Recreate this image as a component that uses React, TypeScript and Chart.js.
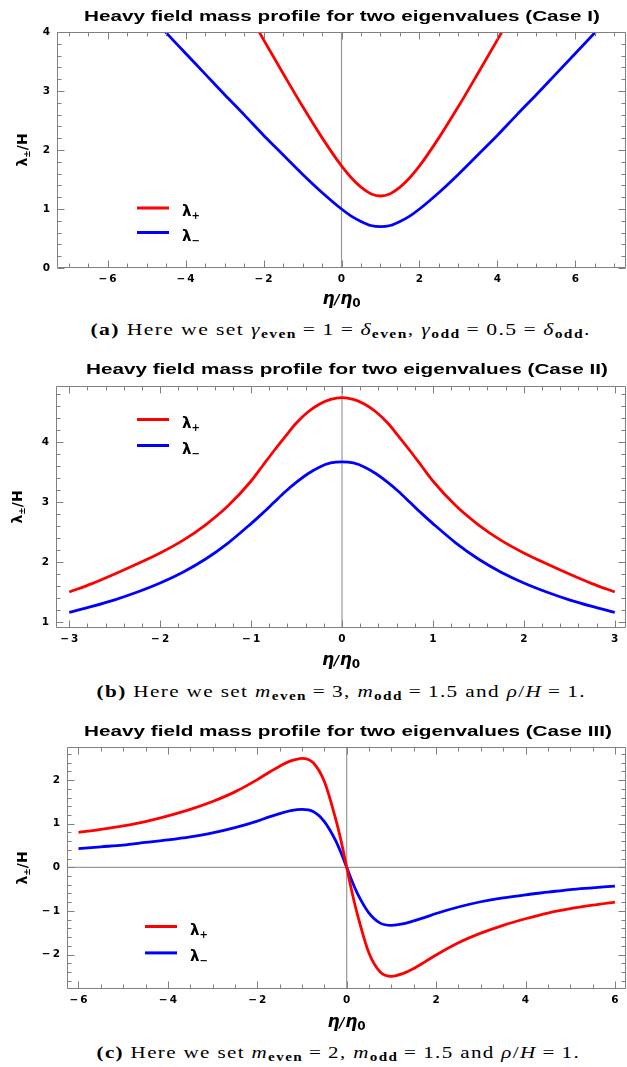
import React, { useEffect, useLayoutEffect, useRef } from 'react';
import { Chart, registerables } from 'chart.js';

Chart.register(...registerables);

// ---------------- data ----------------
// Panel (a) – Case I
const xA_plus = [-2.5, -2, -1.5, -1, -0.5, 0, 0.25, 0.5, 0.75, 1, 1.25, 1.5, 1.75, 2, 2.5, 3, 3.5, 4, 4.5];
const yA_plus = [4.46, 3.87, 3.30, 2.74, 2.21, 1.73, 1.53, 1.37, 1.26, 1.22, 1.26, 1.37, 1.53, 1.73, 2.21, 2.74, 3.30, 3.87, 4.46];
const xA_minus = [-5, -4.5, -4, -3.5, -3, -2.5, -2, -1.5, -1, -0.5, 0, 0.25, 0.5, 0.75, 1, 1.25, 1.5, 1.75, 2, 2.5, 3, 3.5, 4, 4.5, 5, 5.5, 6, 6.5, 7];
const yA_minus = [4.34, 3.99, 3.64, 3.29, 2.94, 2.60, 2.25, 1.92, 1.59, 1.28, 1.00, 0.88, 0.79, 0.72, 0.70, 0.72, 0.79, 0.88, 1.00, 1.28, 1.59, 1.92, 2.25, 2.60, 2.94, 3.29, 3.64, 3.99, 4.34];
const xTicksA = [-6, -4, -2, 0, 2, 4, 6];
const yTicksA = [0, 1, 2, 3, 4];

// Panel (b) – Case II
const xB = [-3, -2.75, -2.5, -2.25, -2, -1.75, -1.5, -1.25, -1, -0.875, -0.75, -0.625, -0.5, -0.375, -0.25, -0.125, 0, 0.125, 0.25, 0.375, 0.5, 0.625, 0.75, 0.875, 1, 1.25, 1.5, 1.75, 2, 2.25, 2.5, 2.75, 3];
const yB_plus = [1.50, 1.64, 1.80, 1.97, 2.15, 2.36, 2.62, 2.94, 3.35, 3.60, 3.85, 4.09, 4.32, 4.50, 4.63, 4.71, 4.74, 4.71, 4.63, 4.50, 4.32, 4.09, 3.85, 3.60, 3.35, 2.94, 2.62, 2.36, 2.15, 1.97, 1.80, 1.64, 1.50];
const yB_minus = [1.16, 1.26, 1.37, 1.50, 1.65, 1.83, 2.05, 2.32, 2.64, 2.81, 2.99, 3.17, 3.33, 3.47, 3.58, 3.65, 3.67, 3.65, 3.58, 3.47, 3.33, 3.17, 2.99, 2.81, 2.64, 2.32, 2.05, 1.83, 1.65, 1.50, 1.37, 1.26, 1.16];
const xTicksB = [-3, -2, -1, 0, 1, 2, 3];
const yTicksB = [1, 2, 3, 4];

// Panel (c) – Case III
const xC = [-6, -5.5, -5, -4.5, -4, -3.5, -3, -2.5, -2, -1.75, -1.5, -1.25, -1, -0.75, -0.5, -0.25, -0.125, 0, 0.125, 0.25, 0.5, 0.75, 1, 1.25, 1.5, 1.75, 2, 2.5, 3, 3.5, 4, 4.5, 5, 5.5, 6];
const yC_plus = [0.80, 0.87, 0.95, 1.05, 1.18, 1.33, 1.51, 1.73, 2.01, 2.17, 2.32, 2.44, 2.50, 2.40, 1.97, 1.12, 0.60, 0, -0.60, -1.12, -1.97, -2.40, -2.50, -2.44, -2.32, -2.17, -2.01, -1.73, -1.51, -1.33, -1.18, -1.05, -0.95, -0.87, -0.80];
const yC_minus = [0.43, 0.47, 0.51, 0.57, 0.63, 0.70, 0.79, 0.91, 1.06, 1.15, 1.23, 1.30, 1.33, 1.28, 1.05, 0.62, 0.33, 0, -0.33, -0.62, -1.05, -1.28, -1.33, -1.30, -1.23, -1.15, -1.06, -0.91, -0.79, -0.70, -0.63, -0.57, -0.51, -0.47, -0.43];
const xTicksC = [-6, -4, -2, 0, 2, 4, 6];
const yTicksC = [-2, -1, 0, 1, 2];

const TITLE_A = 'Heavy field mass profile for two eigenvalues (Case I)';
const TITLE_B = 'Heavy field mass profile for two eigenvalues (Case II)';
const TITLE_C = 'Heavy field mass profile for two eigenvalues (Case III)';

// ---------------- styling / layout ----------------
const W = 627;
const RED = '#ff0000';
const BLUE = '#0000ff';
const FAM = '"DejaVu Sans", sans-serif';
const TFAM = '"Liberation Sans", Arial, sans-serif';
const FRAME = '#808080';

type Series = { xs: number[]; ys: number[]; color: string; sub: string };
type Axis = { min: number; max: number; ticks: number[]; minor: number };
type PanelCfg = {
  top: number;
  height: number;
  plot: { l: number; t: number; r: number; b: number };
  x: Axis;
  y: Axis;
  title: string;
  titleBase: number;
  titleCx: number;
  titleW: number;
  series: Series[];
  legend: { x: number; y: number; gap: number };
  yTitleX: number;
  xTitleBase: number;
  zeroY: boolean;
};

const fmt = (v: number) => (v < 0 ? '\u2212\u2009' + Math.abs(v) : String(v));

type Part = { t: string; font: string; dy?: number; gap?: number };
function partsWidth(ctx: CanvasRenderingContext2D, parts: Part[]) {
  let w = 0;
  for (const p of parts) {
    ctx.font = p.font;
    w += ctx.measureText(p.t).width + (p.gap || 0);
  }
  return w;
}
function drawParts(ctx: CanvasRenderingContext2D, parts: Part[], x: number, y: number) {
  let cx = x;
  for (const p of parts) {
    ctx.font = p.font;
    ctx.fillText(p.t, cx, y + (p.dy || 0));
    cx += ctx.measureText(p.t).width + (p.gap || 0);
  }
}

function makeDecor(cfg: PanelCfg) {
  return {
    id: 'decor',
    beforeDatasetsDraw(chart: any) {
      const { ctx, chartArea: a, scales } = chart;
      const xs = scales.x, ys = scales.y;
      ctx.save();
      ctx.strokeStyle = '#999999';
      ctx.lineWidth = 1.2;
      const px = xs.getPixelForValue(0);
      ctx.beginPath();
      ctx.moveTo(px, a.top);
      ctx.lineTo(px, a.bottom);
      ctx.stroke();
      if (cfg.zeroY) {
        const py = ys.getPixelForValue(0);
        ctx.beginPath();
        ctx.moveTo(a.left, py);
        ctx.lineTo(a.right, py);
        ctx.stroke();
      }
      ctx.restore();
    },
    afterDatasetsDraw(chart: any) {
      const { ctx, chartArea: a, scales } = chart;
      const xs = scales.x, ys = scales.y;
      ctx.save();
      ctx.strokeStyle = FRAME;
      ctx.lineWidth = 1;
      const seg = (x1: number, y1: number, x2: number, y2: number) => {
        ctx.beginPath();
        ctx.moveTo(x1, y1);
        ctx.lineTo(x2, y2);
        ctx.stroke();
      };
      const L = Math.round(a.left) + 0.5;
      const R = Math.round(a.right) - 0.5;
      const T = Math.round(a.top) + 0.5;
      const B = Math.round(a.bottom) - 0.5;
      seg(L, T, R, T);
      seg(R, T, R, B);
      seg(R, B, L, B);
      seg(L, B, L, T);
      const multiples = (ax: Axis) => {
        const out: number[] = [];
        const k0 = Math.ceil(ax.min / ax.minor - 1e-9);
        const k1 = Math.floor(ax.max / ax.minor + 1e-9);
        for (let k = k0; k <= k1; k++) out.push(k * ax.minor);
        return out;
      };
      const xTick = (v: number, len: number) => {
        const p = Math.round(xs.getPixelForValue(v)) + 0.5;
        seg(p, B, p, B - len);
        seg(p, T, p, T + len);
      };
      const yTick = (v: number, len: number) => {
        const p = Math.round(ys.getPixelForValue(v)) + 0.5;
        seg(L, p, L + len, p);
        seg(R, p, R - len, p);
      };
      multiples(cfg.x).forEach((v) => xTick(v, 4));
      cfg.x.ticks.forEach((v) => xTick(v, 7));
      multiples(cfg.y).forEach((v) => yTick(v, 4));
      cfg.y.ticks.forEach((v) => yTick(v, 7));

      ctx.fillStyle = '#000';
      ctx.textBaseline = 'alphabetic';
      ctx.textAlign = 'left';

      // title (wide bold sans)
      ctx.font = `bold 15px ${TFAM}`;
      const tw = ctx.measureText(cfg.title).width;
      ctx.save();
      ctx.translate(cfg.titleCx, cfg.titleBase);
      ctx.scale(cfg.titleW / tw, 1);
      ctx.textAlign = 'center';
      ctx.fillText(cfg.title, 0, 0);
      ctx.restore();

      // x axis title  η/η0
      const xParts: Part[] = [
        { t: '\u03B7', font: `italic bold 17px ${FAM}` },
        { t: '/', font: `italic bold 14px ${FAM}`, gap: 0.5 },
        { t: '\u03B7', font: `italic bold 17px ${FAM}` },
        { t: '0', font: `bold 12px ${FAM}`, dy: 3 },
      ];
      const xw = partsWidth(ctx, xParts);
      drawParts(ctx, xParts, (a.left + a.right) / 2 - xw / 2, cfg.xTitleBase);

      // y axis title  λ±/H
      const yParts: Part[] = [
        { t: '\u03BB', font: `bold 14px ${FAM}` },
        { t: '\u00B1', font: `bold 9px ${FAM}`, dy: 3 },
        { t: '/H', font: `bold 14px ${FAM}` },
      ];
      const yw = partsWidth(ctx, yParts);
      ctx.save();
      ctx.translate(cfg.yTitleX, (a.top + a.bottom) / 2);
      ctx.rotate(-Math.PI / 2);
      drawParts(ctx, yParts, -yw / 2, 5);
      ctx.restore();

      // legend
      cfg.series.forEach((s, i) => {
        const ly = cfg.legend.y + i * cfg.legend.gap;
        ctx.strokeStyle = s.color;
        ctx.lineWidth = 3;
        seg(cfg.legend.x, ly, cfg.legend.x + 32, ly);
        ctx.fillStyle = '#000';
        drawParts(
          ctx,
          [
            { t: '\u03BB', font: `bold 15px ${FAM}` },
            { t: s.sub, font: `bold 10px ${FAM}`, dy: 3 },
          ],
          cfg.legend.x + 45,
          ly + 8
        );
      });
      ctx.restore();
    },
  };
}

const PANELS: PanelCfg[] = [
  {
    top: 0,
    height: 312,
    plot: { l: 57, t: 32, r: 626, b: 268 },
    x: { min: -7.295, max: 7.295, ticks: xTicksA, minor: 0.5 },
    y: { min: 0, max: 4, ticks: yTicksA, minor: 0.2 },
    title: TITLE_A,
    titleBase: 21,
    titleCx: 342,
    titleW: 516,
    series: [
      { xs: xA_plus, ys: yA_plus, color: RED, sub: '+' },
      { xs: xA_minus, ys: yA_minus, color: BLUE, sub: '\u2212' },
    ],
    legend: { x: 137, y: 208, gap: 24.5 },
    yTitleX: 22,
    xTitleBase: 304,
    zeroY: false,
  },
  {
    top: 345,
    height: 330,
    plot: { l: 56, t: 41, r: 626, b: 283 },
    x: { min: -3.146, max: 3.124, ticks: xTicksB, minor: 0.2 },
    y: { min: 0.9, max: 4.933, ticks: yTicksB, minor: 0.2 },
    title: TITLE_B,
    titleBase: 29,
    titleCx: 347,
    titleW: 522,
    series: [
      { xs: xB, ys: yB_plus, color: RED, sub: '+' },
      { xs: xB, ys: yB_minus, color: BLUE, sub: '\u2212' },
    ],
    legend: { x: 137, y: 74.5, gap: 26 },
    yTitleX: 17,
    xTitleBase: 320,
    zeroY: false,
  },
  {
    top: 705,
    height: 330,
    plot: { l: 67, t: 42, r: 626, b: 284 },
    x: { min: -6.257, max: 6.248, ticks: xTicksC, minor: 0.5 },
    y: { min: -2.791, max: 2.759, ticks: yTicksC, minor: 0.2 },
    title: TITLE_C,
    titleBase: 30.5,
    titleCx: 348,
    titleW: 528,
    series: [
      { xs: xC, ys: yC_plus, color: RED, sub: '+' },
      { xs: xC, ys: yC_minus, color: BLUE, sub: '\u2212' },
    ],
    legend: { x: 145, y: 221.5, gap: 26.4 },
    yTitleX: 22,
    xTitleBase: 321.5,
    zeroY: true,
  },
];

function Panel({ cfg }: { cfg: PanelCfg }) {
  const ref = useRef<HTMLCanvasElement | null>(null);
  useEffect(() => {
    if (!ref.current) return;
    const tickFont = { family: FAM, weight: 'bold' as const, size: 10.5 };
    const chart = new Chart(ref.current, {
      type: 'line',
      data: {
        datasets: cfg.series.map((s) => ({
          label: s.sub,
          data: s.xs.map((x, i) => ({ x, y: s.ys[i] })),
          borderColor: s.color,
          borderWidth: 2.8,
          pointRadius: 0,
          fill: false,
          cubicInterpolationMode: 'monotone' as const,
          clip: 0,
        })),
      },
      options: {
        responsive: false,
        animation: false,
        events: [],
        layout: { padding: { left: 0, top: cfg.plot.t, right: W - cfg.plot.r, bottom: 0 } },
        plugins: { legend: { display: false }, title: { display: false }, tooltip: { enabled: false } },
        scales: {
          x: {
            type: 'linear',
            min: cfg.x.min,
            max: cfg.x.max,
            grid: { display: false, drawTicks: false },
            border: { display: false },
            ticks: { font: tickFont, color: '#000', padding: 5, maxRotation: 0, autoSkip: false, includeBounds: false, callback: (v: any) => fmt(Number(v)) },
            afterBuildTicks: (s: any) => {
              s.ticks = cfg.x.ticks.map((v) => ({ value: v }));
            },
            afterFit: (s: any) => {
              s.height = cfg.height - cfg.plot.b;
            },
          },
          y: {
            type: 'linear',
            min: cfg.y.min,
            max: cfg.y.max,
            grid: { display: false, drawTicks: false },
            border: { display: false },
            ticks: { font: tickFont, color: '#000', padding: 7, autoSkip: false, includeBounds: false, callback: (v: any) => fmt(Number(v)) },
            afterBuildTicks: (s: any) => {
              s.ticks = cfg.y.ticks.map((v) => ({ value: v }));
            },
            afterFit: (s: any) => {
              s.width = cfg.plot.l;
            },
          },
        },
      } as any,
      plugins: [makeDecor(cfg)],
    });
    return () => chart.destroy();
  }, [cfg]);
  return (
    <canvas
      ref={ref}
      width={W}
      height={cfg.height}
      style={{ position: 'absolute', left: 0, top: cfg.top, width: W, height: cfg.height }}
    />
  );
}

const Sub = ({ t }: { t: string }) => (
  <span style={{ fontSize: '0.72em', fontWeight: 'bold', position: 'relative', top: '0.28em' }}>{t}</span>
);
const Eq = () => <span style={{ margin: '0 0.28em' }}>=</span>;

function Caption({ top, cx, w, children }: { top: number; cx: number; w: number; children: React.ReactNode }) {
  const ref = useRef<HTMLSpanElement | null>(null);
  useLayoutEffect(() => {
    const el = ref.current;
    if (!el) return;
    const nat = el.offsetWidth;
    if (nat > 0) el.style.transform = `scaleX(${w / nat})`;
  }, [w]);
  return (
    <div
      style={{
        position: 'absolute',
        left: cx - 400,
        width: 800,
        top,
        textAlign: 'center',
        fontFamily: '"Liberation Serif", "DejaVu Serif", serif',
        fontSize: 17,
        lineHeight: '17px',
        letterSpacing: '1.1px',
        color: '#000',
      }}
    >
      <span ref={ref} style={{ display: 'inline-block', whiteSpace: 'nowrap', transformOrigin: '50% 50%' }}>
        {children}
      </span>
    </div>
  );
}

export default function App() {
  return (
    <div style={{ position: 'absolute', left: 0, top: 0, width: W, height: 1067, background: '#fff', overflow: 'hidden' }}>
      {PANELS.map((p, i) => (
        <Panel key={i} cfg={p} />
      ))}
      <Caption top={321} cx={341} w={500}>
        <b>(a)</b> Here we set <i>γ</i>
        <Sub t="even" />
        <Eq />1<Eq />
        <i>δ</i>
        <Sub t="even" />, <i>γ</i>
        <Sub t="odd" />
        <Eq />0.5<Eq />
        <i>δ</i>
        <Sub t="odd" />.
      </Caption>
      <Caption top={683} cx={341} w={490}>
        <b>(b)</b> Here we set <i>m</i>
        <Sub t="even" />
        <Eq />3, <i>m</i>
        <Sub t="odd" />
        <Eq />1.5 and <i>ρ</i>/<i>H</i>
        <Eq />1.
      </Caption>
      <Caption top={1044} cx={338} w={484}>
        <b>(c)</b> Here we set <i>m</i>
        <Sub t="even" />
        <Eq />2, <i>m</i>
        <Sub t="odd" />
        <Eq />1.5 and <i>ρ</i>/<i>H</i>
        <Eq />1.
      </Caption>
    </div>
  );
}
